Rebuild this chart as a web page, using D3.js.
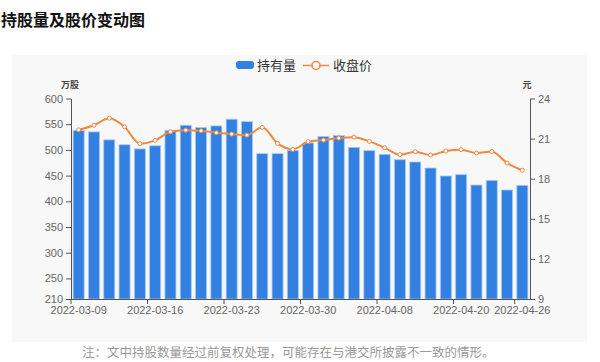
<!DOCTYPE html>
<html>
<head>
<meta charset="utf-8">
<script src="https://cdn.jsdelivr.net/npm/d3@7"></script>
<style>
  body { margin: 0; background: #fff; }
  svg { display: block; font-family: "Liberation Sans", "Noto Sans CJK SC", sans-serif; }
</style>
</head>
<body>
<div id="chart"></div>
<script>
// données
const dates = ['2022-03-09', '2022-03-10', '2022-03-11', '2022-03-14', '2022-03-15',
    '2022-03-16', '2022-03-17', '2022-03-18', '2022-03-21', '2022-03-22',
    '2022-03-23', '2022-03-24', '2022-03-25', '2022-03-28', '2022-03-29',
    '2022-03-30', '2022-03-31', '2022-04-01', '2022-04-06', '2022-04-07',
    '2022-04-08', '2022-04-11', '2022-04-12', '2022-04-13', '2022-04-14',
    '2022-04-20', '2022-04-21', '2022-04-22', '2022-04-25', '2022-04-26'];
const holdings = [538, 535, 519.5, 510, 502, 508, 537.6, 548, 543.5, 546.7,
    559.7, 555, 492.7, 492.7, 499, 513.6, 526, 527.9, 505, 498.6,
    491.4, 481, 476.5, 464.8, 449.3, 451.8, 431.7, 440.7, 422, 431];
const prices = [21.66, 22.0, 22.53, 21.89, 20.62, 20.87, 21.51, 21.63, 21.59, 21.44,
    21.34, 21.26, 21.84, 20.64, 20.19, 20.77, 20.89, 21.04, 21.11, 20.79,
    20.32, 19.8, 20.02, 19.77, 20.07, 20.17, 19.92, 20.04, 19.17, 18.63];
const leftTicks = [210, 250, 300, 350, 400, 450, 500, 550, 600];
const rightTicks = [9, 12, 15, 18, 21, 24];
const labelIdx = [0, 5, 10, 15, 20, 25, 29];

const width = 600, height = 362;
const plotLeft = 71, plotRight = 530, plotTop = 98.5, plotBottom = 299;

const svg = d3.select('#chart').append('svg')
    .attr('width', width)
    .attr('height', height);

// titre
svg.append('text')
    .attr('x', 1).attr('y', 26)
    .style('font-family', '"Noto Sans CJK SC", sans-serif')
    .style('font-size', '16px')
    .style('font-weight', 'bold')
    .style('fill', '#111')
    .text('持股量及股价变动图');

// fond gris
svg.append('rect')
    .attr('x', 12).attr('y', 55)
    .attr('width', 575).attr('height', 287)
    .attr('fill', '#f8f8f8');

const x = d3.scaleBand()
    .domain(dates)
    .range([plotLeft, plotRight])
    .paddingInner(0.28)
    .paddingOuter(0.14);

const yL = d3.scaleLinear().domain([210, 600]).range([plotBottom, plotTop]);
const yR = d3.scaleLinear().domain([9, 24]).range([plotBottom, plotTop]);

// barres
svg.append('g').selectAll('rect')
    .data(holdings)
    .enter()
    .append('rect')
    .attr('x', (d, i) => x(dates[i]))
    .attr('y', d => yL(d))
    .attr('width', x.bandwidth())
    .attr('height', d => plotBottom - yL(d))
    .style('fill', '#3281e2')
    .style('stroke', '#a9c9f2')
    .style('stroke-width', 0.8);

// axes
const axisColor = '#555';
const gL = svg.append('g')
    .attr('transform', `translate(${plotLeft},0)`)
    .call(d3.axisLeft(yL).tickValues(leftTicks).tickSize(5).tickSizeOuter(0));
const gR = svg.append('g')
    .attr('transform', `translate(${plotRight},0)`)
    .call(d3.axisRight(yR).tickValues(rightTicks).tickSize(5).tickSizeOuter(0));
const gX = svg.append('g')
    .attr('transform', `translate(0,${plotBottom})`)
    .call(d3.axisBottom(x).tickValues(labelIdx.map(i => dates[i])).tickSize(5).tickSizeOuter(0));

// les graduations de l'axe x sont sur les bords des bandes
gX.selectAll('.tick line')
    .attr('x1', -x.step() / 2)
    .attr('x2', -x.step() / 2);

[gL, gR, gX].forEach(g => {
    g.select('.domain').style('stroke', axisColor);
    g.selectAll('.tick line').style('stroke', axisColor);
    g.selectAll('.tick text')
        .style('fill', '#666')
        .style('font-size', '11px')
        .style('font-family', '"Liberation Sans", sans-serif');
});
gX.selectAll('.tick text').attr('dy', '0.65em');

// noms des axes
svg.append('text')
    .attr('x', 70).attr('y', 88)
    .attr('text-anchor', 'middle')
    .style('font-family', '"Noto Sans CJK SC", sans-serif')
    .style('font-size', '9px')
    .style('font-weight', 'bold')
    .style('fill', '#444')
    .text('万股');
svg.append('text')
    .attr('x', 527).attr('y', 88)
    .attr('text-anchor', 'middle')
    .style('font-family', '"Noto Sans CJK SC", sans-serif')
    .style('font-size', '9px')
    .style('font-weight', 'bold')
    .style('fill', '#444')
    .text('元');

// courbe du prix
const cx = i => x(dates[i]) + x.bandwidth() / 2;
const line = d3.line()
    .x((d, i) => cx(i))
    .y(d => yR(d))
    .curve(d3.curveMonotoneX);

svg.append('path')
    .datum(prices)
    .attr('d', line)
    .style('fill', 'none')
    .style('stroke', '#f0883e')
    .style('stroke-width', 2);

svg.append('g').selectAll('circle')
    .data(prices)
    .enter()
    .append('circle')
    .attr('cx', (d, i) => cx(i))
    .attr('cy', d => yR(d))
    .attr('r', 2)
    .style('fill', '#fff')
    .style('stroke', '#f0883e')
    .style('stroke-width', 1);

// légende
const legend = svg.append('g')
    .style('font-family', '"Noto Sans CJK SC", sans-serif')
    .style('font-size', '13px')
    .style('fill', '#333');
legend.append('rect')
    .attr('x', 236).attr('y', 61)
    .attr('width', 18).attr('height', 8)
    .attr('rx', 3)
    .style('fill', '#3281e2');
legend.append('text').attr('x', 257).attr('y', 70).text('持有量');
legend.append('line')
    .attr('x1', 303).attr('x2', 329)
    .attr('y1', 65.5).attr('y2', 65.5)
    .style('stroke', '#f0883e')
    .style('stroke-width', 1.5);
legend.append('circle')
    .attr('cx', 316).attr('cy', 65.5).attr('r', 4)
    .style('fill', '#fff')
    .style('stroke', '#f0883e')
    .style('stroke-width', 1.5);
legend.append('text').attr('x', 333).attr('y', 70).text('收盘价');

// note
svg.append('text')
    .attr('x', 82).attr('y', 357)
    .style('font-family', '"Noto Sans CJK SC", sans-serif')
    .style('font-size', '12.5px')
    .style('fill', '#999')
    .text('注：文中持股数量经过前复权处理，可能存在与港交所披露不一致的情形。');
</script>
</body>
</html>
